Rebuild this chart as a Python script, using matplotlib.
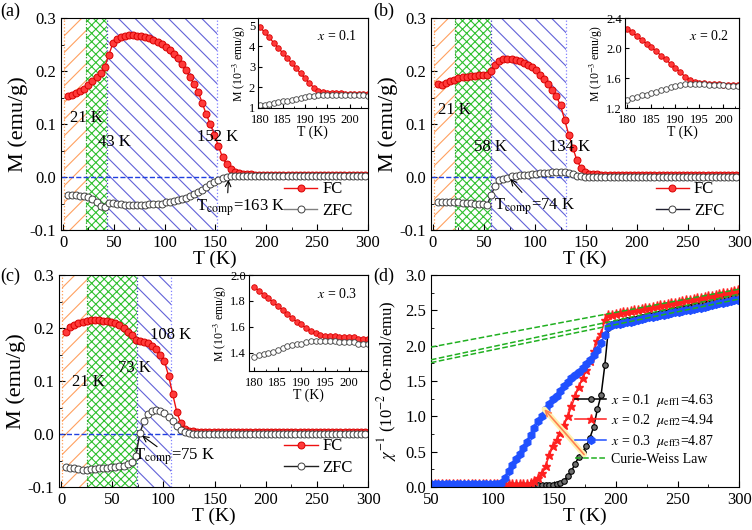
import numpy as np
import matplotlib
matplotlib.use('Agg')
import matplotlib.pyplot as plt

plt.rcParams['font.family'] = 'serif'
plt.rcParams['font.serif'] = ['Liberation Serif', 'DejaVu Serif']
plt.rcParams['mathtext.fontset'] = 'stix'
plt.rcParams['axes.unicode_minus'] = False
plt.rcParams['hatch.linewidth'] = 0.8

# ---- M(T) data, panels (a)-(c) ----
T = np.arange(5, 300, 4)

fc_a = [0.153, 0.155, 0.158, 0.162, 0.167, 0.174, 0.181, 0.188, 0.197, 0.208,
        0.230, 0.252, 0.261, 0.265, 0.267, 0.268, 0.268, 0.267, 0.266, 0.264,
        0.262, 0.259, 0.255, 0.251, 0.246, 0.240, 0.233, 0.224, 0.214, 0.201,
        0.188, 0.175, 0.161, 0.140, 0.118, 0.100, 0.080, 0.058, 0.037, 0.024,
        0.015, 0.010, 0.007, 0.006, 0.005, 0.005, 0.004, 0.004, 0.004, 0.004,
        0.004, 0.004, 0.004, 0.004, 0.004, 0.004, 0.004, 0.004, 0.004, 0.004,
        0.004, 0.004, 0.004, 0.004, 0.004, 0.004, 0.004, 0.004, 0.004, 0.004,
        0.004, 0.004, 0.004, 0.004]
zfc_a = [-0.034, -0.034, -0.034, -0.035, -0.036, -0.038, -0.042, -0.048, -0.055, -0.056,
         -0.049, -0.049, -0.050, -0.051, -0.052, -0.052, -0.052, -0.052, -0.052, -0.052,
         -0.051, -0.051, -0.050, -0.050, -0.048, -0.047, -0.045, -0.043, -0.041, -0.039,
         -0.036, -0.032, -0.028, -0.024, -0.019, -0.014, -0.009, -0.005, -0.002, 0.000,
         0.001, 0.001, 0.001, 0.001, 0.001, 0.001, 0.001, 0.001, 0.001, 0.001,
         0.001, 0.001, 0.001, 0.001, 0.001, 0.001, 0.001, 0.001, 0.001, 0.001,
         0.001, 0.001, 0.001, 0.001, 0.001, 0.001, 0.001, 0.001, 0.001, 0.001,
         0.001, 0.001, 0.001, 0.001]

fc_b = [0.176, 0.174, 0.178, 0.181, 0.184, 0.186, 0.188, 0.189, 0.190, 0.191,
        0.192, 0.192, 0.193, 0.200, 0.212, 0.219, 0.222, 0.223, 0.223, 0.221,
        0.219, 0.216, 0.212, 0.207, 0.201, 0.193, 0.185, 0.176, 0.165, 0.152,
        0.135, 0.108, 0.080, 0.055, 0.032, 0.017, 0.009, 0.006, 0.005, 0.005,
        0.004, 0.004, 0.004, 0.004, 0.004, 0.004, 0.004, 0.004, 0.004, 0.004,
        0.004, 0.004, 0.004, 0.004, 0.004, 0.004, 0.004, 0.004, 0.004, 0.004,
        0.004, 0.004, 0.004, 0.004, 0.004, 0.004, 0.004, 0.004, 0.004, 0.004,
        0.004, 0.004, 0.004, 0.004]
zfc_b = [-0.048, -0.048, -0.048, -0.048, -0.048, -0.048, -0.049, -0.049, -0.049, -0.050,
         -0.050, -0.051, -0.053, -0.034, -0.016, -0.006, -0.003, -0.001, 0.001, 0.002,
         0.003, 0.004, 0.004, 0.005, 0.006, 0.007, 0.007, 0.008, 0.009, 0.010,
         0.010, 0.010, 0.008, 0.005, 0.002, 0.001, 0.000, 0.000, 0.000, 0.000,
         0.000, 0.000, 0.000, 0.000, 0.000, 0.000, 0.000, 0.000, 0.000, 0.000,
         0.000, 0.000, 0.000, 0.000, 0.000, 0.000, 0.000, 0.000, 0.000, 0.000,
         0.000, 0.000, 0.000, 0.000, 0.000, 0.000, 0.000, 0.000, 0.000, 0.000,
         0.000, 0.000, 0.000, 0.000]

fc_c = [0.193, 0.201, 0.206, 0.210, 0.212, 0.214, 0.215, 0.215, 0.215, 0.214,
        0.213, 0.212, 0.209, 0.205, 0.200, 0.193, 0.186, 0.178, 0.175, 0.174,
        0.171, 0.167, 0.160, 0.150, 0.137, 0.110, 0.076, 0.042, 0.020, 0.009,
        0.006, 0.005, 0.004, 0.004, 0.004, 0.004, 0.004, 0.004, 0.004, 0.004,
        0.004, 0.004, 0.004, 0.004, 0.004, 0.004, 0.004, 0.004, 0.004, 0.004,
        0.004, 0.004, 0.004, 0.004, 0.004, 0.004, 0.004, 0.004, 0.004, 0.004,
        0.004, 0.004, 0.004, 0.004, 0.004, 0.004, 0.004, 0.004, 0.004, 0.004,
        0.004, 0.004, 0.004, 0.004]
zfc_c = [-0.062, -0.064, -0.065, -0.066, -0.067, -0.067, -0.066, -0.066, -0.065, -0.064,
         -0.064, -0.063, -0.062, -0.061, -0.060, -0.057, -0.053, -0.042, 0.002, 0.024,
         0.037, 0.044, 0.045, 0.044, 0.040, 0.033, 0.025, 0.015, 0.007, 0.003,
         0.001, 0.000, 0.000, 0.000, 0.000, 0.000, 0.000, 0.000, 0.000, 0.000,
         0.000, 0.000, 0.000, 0.000, 0.000, 0.000, 0.000, 0.000, 0.000, 0.000,
         0.000, 0.000, 0.000, 0.000, 0.000, 0.000, 0.000, 0.000, 0.000, 0.000,
         0.000, 0.000, 0.000, 0.000, 0.000, 0.000, 0.000, 0.000, 0.000, 0.000,
         0.000, 0.000, 0.000, 0.000]

# region boundaries (orange / green / blue hatched)
bounds_a = [1, 23, 43, 152]
bounds_b = [1, 22, 57, 130]
bounds_c = [1, 25, 74, 107]

# ---- insets (10^-3 emu/g) ----
T_in = np.arange(180, 205)
in_fc_a = [4.92, 4.67, 4.42, 4.17, 3.92, 3.67, 3.42, 3.17, 2.92, 2.67, 2.42, 2.18, 1.97,
           1.83, 1.76, 1.73, 1.71, 1.70, 1.69, 1.68, 1.68, 1.67, 1.67, 1.66, 1.66]
in_zfc_a = [1.10, 1.14, 1.18, 1.22, 1.26, 1.30, 1.34, 1.38, 1.42, 1.46, 1.50, 1.54, 1.58,
            1.61, 1.62, 1.62, 1.61, 1.61, 1.60, 1.60, 1.60, 1.59, 1.59, 1.59, 1.58]
in_fc_b = [2.26, 2.21, 2.16, 2.11, 2.06, 2.01, 1.96, 1.90, 1.85, 1.79, 1.74, 1.68, 1.62,
           1.58, 1.55, 1.53, 1.53, 1.52, 1.52, 1.52, 1.51, 1.51, 1.51, 1.51, 1.51]
in_zfc_b = [1.31, 1.33, 1.35, 1.37, 1.38, 1.40, 1.42, 1.44, 1.46, 1.48, 1.49, 1.51, 1.52,
            1.52, 1.52, 1.52, 1.52, 1.51, 1.51, 1.51, 1.51, 1.50, 1.50, 1.50, 1.50]
in_fc_c = [1.91, 1.88, 1.85, 1.82, 1.79, 1.76, 1.73, 1.70, 1.67, 1.64, 1.62, 1.59, 1.57,
           1.55, 1.54, 1.53, 1.53, 1.53, 1.52, 1.52, 1.52, 1.52, 1.51, 1.51, 1.51]
in_zfc_c = [1.37, 1.38, 1.39, 1.40, 1.41, 1.42, 1.44, 1.45, 1.46, 1.47, 1.47, 1.48, 1.49,
            1.49, 1.49, 1.49, 1.49, 1.49, 1.48, 1.48, 1.48, 1.48, 1.47, 1.47, 1.47]

# ---- panel (d): inverse susceptibility ----
T_d = np.arange(50, 301, 3)
chi_01 = [0.03, 0.03, 0.03, 0.03, 0.03, 0.03, 0.03, 0.03, 0.03, 0.03,
          0.03, 0.03, 0.03, 0.03, 0.03, 0.03, 0.03, 0.03, 0.03, 0.03,
          0.03, 0.03, 0.03, 0.03, 0.03, 0.03, 0.03, 0.03, 0.03, 0.03,
          0.03, 0.03, 0.03, 0.035, 0.04, 0.05, 0.09, 0.16, 0.23, 0.33,
          0.43, 0.50, 0.58, 0.70, 0.85, 1.10, 1.30, 1.72, 2.25, 2.31,
          2.32, 2.33, 2.35, 2.36, 2.37, 2.38, 2.39, 2.40, 2.41, 2.43,
          2.44, 2.45, 2.46, 2.47, 2.48, 2.50, 2.51, 2.52, 2.53, 2.54,
          2.55, 2.57, 2.58, 2.59, 2.60, 2.61, 2.63, 2.64, 2.65, 2.66,
          2.67, 2.69, 2.70, 2.71]
chi_02 = [0.04, 0.04, 0.04, 0.04, 0.04, 0.04, 0.04, 0.04, 0.04, 0.04,
          0.04, 0.04, 0.04, 0.04, 0.04, 0.04, 0.04, 0.04, 0.04, 0.04,
          0.04, 0.04, 0.04, 0.04, 0.04, 0.04, 0.045, 0.06, 0.09, 0.13,
          0.20, 0.30, 0.45, 0.58, 0.67, 0.77, 0.88, 1.00, 1.14, 1.29,
          1.42, 1.54, 1.65, 1.78, 1.92, 2.06, 2.17, 2.36, 2.43, 2.44,
          2.45, 2.46, 2.47, 2.48, 2.49, 2.50, 2.51, 2.52, 2.53, 2.54,
          2.55, 2.56, 2.57, 2.58, 2.59, 2.60, 2.61, 2.62, 2.63, 2.64,
          2.65, 2.66, 2.67, 2.68, 2.69, 2.70, 2.71, 2.72, 2.73, 2.74,
          2.75, 2.76, 2.78, 2.79]
chi_03 = [0.04, 0.04, 0.04, 0.04, 0.04, 0.04, 0.04, 0.04, 0.04, 0.04,
          0.04, 0.04, 0.04, 0.04, 0.04, 0.04, 0.04, 0.04, 0.04, 0.06,
          0.13, 0.22, 0.31, 0.39, 0.47, 0.55, 0.64, 0.74, 0.84, 0.94,
          1.01, 1.10, 1.18, 1.24, 1.29, 1.36, 1.43, 1.49, 1.54, 1.58,
          1.63, 1.68, 1.74, 1.80, 1.87, 1.94, 2.04, 2.15, 2.26, 2.29,
          2.30, 2.31, 2.32, 2.33, 2.34, 2.35, 2.36, 2.38, 2.39, 2.40,
          2.41, 2.42, 2.43, 2.44, 2.45, 2.46, 2.47, 2.48, 2.49, 2.50,
          2.51, 2.52, 2.53, 2.54, 2.55, 2.56, 2.58, 2.59, 2.60, 2.61,
          2.62, 2.63, 2.64, 2.65]
cw_T = [50, 300]
cw_02 = [1.98, 2.80]
cw_01 = [1.80, 2.73]
cw_03 = [1.76, 2.66]
labels_d = [r'$x$ = 0.1  $\mu_{\rm eff1}$=4.63',
            r'$x$ = 0.2  $\mu_{\rm eff2}$=4.94',
            r'$x$ = 0.3  $\mu_{\rm eff3}$=4.87',
            'Curie-Weiss Law']

fig = plt.figure(figsize=(7.52, 5.30), dpi=100)


def main_panel(rect, fc, zfc, bounds, zfc_line):
    ax = fig.add_axes(rect)
    ax.axvspan(bounds[0], bounds[1], facecolor='none', edgecolor='#ffa060', hatch='//', lw=0)
    ax.axvspan(bounds[1], bounds[2], facecolor='none', edgecolor='#2fc02f', hatch='xxxx', lw=0)
    ax.axvspan(bounds[2], bounds[3], facecolor='none', edgecolor='#6262d8', hatch='\\\\', lw=0)
    cols = ['#ff9a50', '#2fa02f', '#4040c0', '#8080ff']
    for b, c in zip(bounds, cols):
        ax.axvline(b, color=c, ls=':', lw=0.9)
    ax.axhline(0, color='#2040e0', ls='--', lw=1)
    ax.plot(T, fc, '-o', color='#ee1010', ms=5, mfc='#ff3a3a', mec='#d80000', mew=0.7,
            lw=1, label='FC')
    ax.plot(T, zfc, '-o', color=zfc_line, ms=5, mfc='white', mec='#404040', mew=0.7,
            lw=1, label='ZFC')
    ax.set_xlim(-2, 300)
    ax.set_ylim(-0.1, 0.3)
    ax.set_xticks([0, 50, 100, 150, 200, 250, 300])
    ax.set_xticks([25, 75, 125, 175, 225, 275], minor=True)
    ax.set_yticks([-0.1, 0.0, 0.1, 0.2, 0.3])
    ax.set_yticks([-0.05, 0.05, 0.15, 0.25], minor=True)
    ax.yaxis.set_major_formatter(matplotlib.ticker.FormatStrFormatter('%.1f'))
    ax.tick_params(which='both', direction='in', labelsize=12)
    ax.tick_params(which='major', length=4)
    ax.tick_params(which='minor', length=2)
    ax.set_xlabel('T (K)', fontsize=14, labelpad=0)
    ax.set_ylabel('M (emu/g)', fontsize=16, labelpad=1)
    ax.legend(loc='lower right', bbox_to_anchor=(1.0, -0.02), frameon=False, fontsize=12,
              handlelength=2.0, handletextpad=0.3, labelspacing=0.35)
    return ax


def inset(rect, fc, zfc, ylim, yticks, fmt, xlim, text, tx):
    ax = fig.add_axes(rect)
    ax.plot(T_in, fc, '-o', color='#ee1010', ms=4, mfc='#ff3a3a', mec='#d80000', mew=0.6, lw=1)
    ax.plot(T_in, zfc, 'o', ms=4, mfc='white', mec='#404040', mew=0.6)
    ax.set_xlim(*xlim)
    ax.set_ylim(*ylim)
    ax.set_xticks([180, 185, 190, 195, 200])
    ax.set_xticks([182.5, 187.5, 192.5, 197.5, 202.5], minor=True)
    ax.set_yticks(yticks)
    ax.yaxis.set_major_formatter(matplotlib.ticker.FormatStrFormatter(fmt))
    ax.tick_params(which='both', direction='in', labelsize=9, pad=2)
    ax.tick_params(axis='x', pad=4)
    ax.tick_params(which='major', length=3)
    ax.tick_params(which='minor', length=1.5)
    ax.set_xlabel('T (K)', fontsize=10, labelpad=0)
    ax.set_ylabel(r'M (10$^{-3}$ emu/g)', fontsize=8.5, labelpad=1)
    ax.text(tx, 0.8, text, transform=ax.transAxes, fontsize=10, va='center')
    return ax


# (a)
ax_a = main_panel([0.0811, 0.566, 0.408, 0.400], fc_a, zfc_a, bounds_a, '#808080')
ax_a.text(7, 0.111, '21 K', fontsize=12, va='center')
ax_a.text(34, 0.066, '43 K', fontsize=12, va='center')
ax_a.text(132, 0.075, '152 K', fontsize=12, va='center')
ax_a.text(131, -0.058, r'T$_{\rm comp}$=163 K', fontsize=12, va='center')
ax_a.annotate('', xy=(163, 0.0), xytext=(162, -0.035),
              arrowprops=dict(arrowstyle='->', lw=0.8, color='black'))
inset([0.343, 0.796, 0.146, 0.170], in_fc_a, in_zfc_a, (0.97, 5.37), [1, 2, 3, 4, 5], '%d',
      (179.5, 204), r'$x$ = 0.1', 0.54)

# (b)
ax_b = main_panel([0.573, 0.566, 0.410, 0.400], fc_b, zfc_b, bounds_b, '#202030')
ax_b.text(5, 0.126, '21 K', fontsize=12, va='center')
ax_b.text(40, 0.057, '58 K', fontsize=12, va='center')
ax_b.text(114, 0.057, '134 K', fontsize=12, va='center')
ax_b.text(60, -0.056, r'T$_{\rm comp}$=74 K', fontsize=12, va='center')
ax_b.annotate('', xy=(74, 0.0), xytext=(89, -0.033),
              arrowprops=dict(arrowstyle='->', lw=0.8, color='black'))
inset([0.831, 0.796, 0.152, 0.170], in_fc_b, in_zfc_b, (1.2, 2.4), [1.2, 1.6, 2.0, 2.4], '%.1f',
      (179.5, 203.3), r'$x$ = 0.2', 0.56)

# (c)
ax_c = main_panel([0.0785, 0.0811, 0.411, 0.400], fc_c, zfc_c, bounds_c, '#202020')
ax_c.text(11, 0.098, '21 K', fontsize=12, va='center')
ax_c.text(56, 0.125, '73 K', fontsize=12, va='center')
ax_c.text(87, 0.187, '108 K', fontsize=12, va='center')
ax_c.text(71, -0.043, r'T$_{\rm comp}$=75 K', fontsize=12, va='center')
ax_c.annotate('', xy=(77, 0.0), xytext=(96, -0.027),
              arrowprops=dict(arrowstyle='->', lw=0.8, color='black'))
inset([0.331, 0.300, 0.158, 0.181], in_fc_c, in_zfc_c, (1.26, 2.0), [1.4, 1.6, 1.8, 2.0], '%.1f',
      (178.9, 204), r'$x$ = 0.3', 0.57)

# (d)
ax_d = fig.add_axes([0.573, 0.0811, 0.410, 0.400])
h1, = ax_d.plot(T_d, chi_01, '-o', color='black', ms=4, mfc='#707070', mec='black', mew=0.8, lw=1.1)
h2, = ax_d.plot(T_d, chi_02, '-*', color='#ff2020', ms=6.5, mfc='#ff2020', mec='#ff2020', lw=1.1)
h3, = ax_d.plot(T_d, chi_03, '-h', color='#2050ff', ms=5.5, mfc='#2050ff', mec='#2050ff', lw=1.1)
ax_d.plot(cw_T, cw_02, '--', color='#20b020', lw=1.1, zorder=3)
ax_d.plot(cw_T, cw_01, '--', color='#20b020', lw=1.1, zorder=3)
ax_d.plot(cw_T, cw_03, '--', color='#20b020', lw=1.1, zorder=3)
h4, = ax_d.plot([], [], '--', color='#20b020', lw=1.1)
ax_d.annotate('', xy=(140.5, 1.13), xytext=(175.7, 0.43),
              arrowprops=dict(arrowstyle='-', lw=4, color='#fff2b0'))
ax_d.annotate('', xy=(140.5, 1.13), xytext=(175.7, 0.43),
              arrowprops=dict(arrowstyle='->', lw=1.2, color='#ff8050'))
ax_d.legend([h1, h2, h3, h4], labels_d, loc='lower right', bbox_to_anchor=(0.96, 0.04),
            frameon=False, fontsize=10, handlelength=2.2, handletextpad=0.4, labelspacing=0.25)
ax_d.set_xlim(50, 300)
ax_d.set_ylim(0, 3.0)
ax_d.set_xticks([50, 100, 150, 200, 250, 300])
ax_d.set_xticks([75, 125, 175, 225, 275], minor=True)
ax_d.set_yticks([0, 0.5, 1.0, 1.5, 2.0, 2.5, 3.0])
ax_d.set_yticks([0.25, 0.75, 1.25, 1.75, 2.25, 2.75], minor=True)
ax_d.yaxis.set_major_formatter(matplotlib.ticker.FormatStrFormatter('%.1f'))
ax_d.tick_params(which='both', direction='in', labelsize=12)
ax_d.tick_params(which='major', length=4)
ax_d.tick_params(which='minor', length=2)
ax_d.set_xlabel('T (K)', fontsize=14, labelpad=0)
ax_d.set_ylabel(r'$\chi^{-1}$ (10$^{-2}$ Oe$\cdot$mol/emu)', fontsize=12, labelpad=4)

# panel letters
fig.text(0.0, 0.995, '(a)', fontsize=13, va='top')
fig.text(0.497, 0.995, '(b)', fontsize=13, va='top')
fig.text(0.0, 0.495, '(c)', fontsize=13, va='top')
fig.text(0.497, 0.495, '(d)', fontsize=13, va='top')

fig.savefig('out.png', dpi=100)
